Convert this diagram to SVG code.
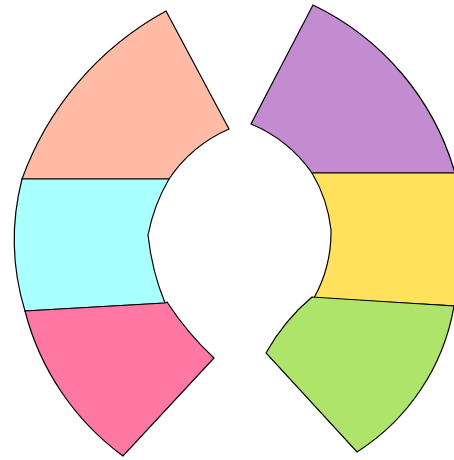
<svg xmlns="http://www.w3.org/2000/svg" width="454" height="460" viewBox="0 0 454 460">
  <style>
    .seg { stroke: #000; stroke-width: 1.2; stroke-linejoin: miter; }
  </style>
  <rect x="0" y="0" width="454" height="460" fill="#fff"/>
  <g id="left-half">
    <g id="seg-salmon">
      <path class="seg" fill="#FFBBA5" d="M166,11 L229,129 A140,140 0 0,0 169,179 L22,179 A312,312 0 0,1 166,11 Z"/>
    </g>
    <g id="seg-cyan">
      <path class="seg" fill="#AAFFFF" d="M22,179 L169,179 A180,180 0 0,0 148,235 A250,250 0 0,0 165,303 L25,311 A245,245 0 0,1 22,179 Z"/>
    </g>
    <g id="seg-pink">
      <path class="seg" fill="#FF77A3" d="M25,311 L165,303 L167,302 A300,300 0 0,0 214,358 L123,456 A260,260 0 0,1 25,311 Z"/>
    </g>
  </g>
  <g id="right-half">
    <g id="seg-purple">
      <path class="seg" fill="#C38BD0" d="M313,5 A268,268 0 0,1 455,173 L312,173 A140,140 0 0,0 251,124 Z"/>
    </g>
    <g id="seg-yellow">
      <path class="seg" fill="#FFE15C" d="M312,173 L460,173 L460,306.3 L314,298 A136,136 0 0,0 331,230 A140,140 0 0,0 312,173 Z"/>
    </g>
    <g id="seg-green">
      <path class="seg" fill="#AFE46A" d="M312,297 L454,306 A216,216 0 0,1 357,452 L266,353 A200,200 0 0,1 312,297 Z"/>
    </g>
  </g>
</svg>
